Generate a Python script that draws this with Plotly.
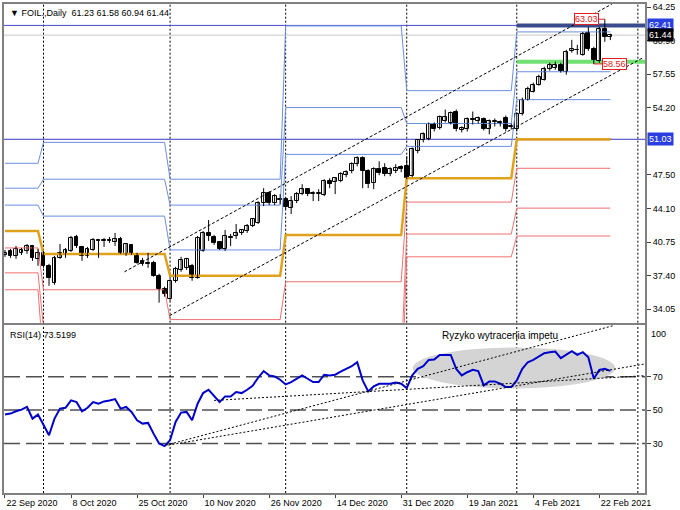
import plotly.graph_objects as go

# ---------------- data ----------------
opens = [39.48,39.87,39.38,39.68,39.87,40.37,39.08,39.68,38.38,36.69,
         39.18,39.58,39.87,41.27,40.27,39.38,39.97,40.97,40.87,40.97,
         40.77,41.07,39.58,40.47,39.58,38.88,38.58,38.68,37.39,36.09,
         35.10,36.89,37.98,38.18,38.38,37.19,39.87,41.67,41.27,40.77,
         40.07,41.27,41.37,41.67,41.86,42.36,42.66,44.65,45.65,44.65,
         45.05,45.05,44.15,44.85,45.55,46.04,45.55,45.60,45.45,46.84,
         46.74,46.84,47.44,47.83,48.53,49.13,47.83,46.64,48.03,48.13,
         47.54,47.83,48.23,48.33,47.34,49.82,50.92,51.02,52.51,52.11,
         52.81,52.61,53.80,51.91,52.01,53.01,52.81,53.01,52.01,52.75,
         52.71,53.11,52.25,52.01,53.51,55.00,55.79,56.49,56.99,58.08,
         58.18,58.48,57.78,59.87,59.93,59.48,61.66,60.07,58.88,62.06,
         61.23]
highs = [39.97,40.07,40.37,40.17,40.57,40.47,40.07,39.87,38.58,39.38,
         40.57,40.17,41.37,41.47,40.37,40.27,41.17,41.07,41.17,41.27,
         41.67,41.27,40.67,40.57,39.68,39.18,39.68,38.88,37.59,36.29,
         37.09,38.28,39.28,39.18,38.58,41.37,41.86,42.96,41.47,40.87,
         41.96,41.57,42.56,42.06,42.56,43.16,44.85,46.14,45.84,45.55,
         45.55,45.25,45.35,45.75,46.54,46.14,45.84,46.04,47.04,47.14,
         47.24,47.74,47.93,48.73,49.33,49.33,48.03,48.23,48.83,48.63,
         48.23,48.53,48.43,49.33,50.22,51.02,51.72,52.71,52.71,53.41,
         54.00,53.80,54.00,52.31,53.21,53.80,53.31,53.21,53.01,53.11,
         52.91,53.41,52.61,53.71,55.20,56.29,56.69,57.49,58.28,58.68,
         58.78,58.68,59.97,60.97,60.47,61.76,62.26,60.27,62.26,63.03,
         61.58]
lows = [39.28,39.18,39.08,39.48,39.58,38.88,38.38,38.18,36.39,36.49,
        39.08,39.18,39.78,40.17,38.88,39.18,39.87,39.18,40.27,40.67,
        40.37,39.58,39.38,39.48,38.58,38.38,38.18,37.29,34.70,35.30,
        34.90,36.69,37.79,37.98,36.89,37.09,39.78,40.87,40.47,39.97,
        39.87,40.37,41.07,41.47,41.67,42.26,42.56,44.35,44.45,44.45,
        44.55,44.05,43.56,44.65,45.45,45.35,44.85,44.85,45.35,46.14,
        45.55,46.74,47.24,47.64,48.33,46.14,46.14,46.04,47.44,47.34,
        47.34,47.64,47.74,47.04,47.24,49.63,50.72,50.92,51.81,52.01,
        52.71,52.51,51.81,51.72,51.81,52.51,52.61,51.91,51.52,52.31,
        52.31,51.81,52.01,51.81,53.41,54.90,55.70,56.39,56.89,57.88,
        57.98,57.69,57.49,59.68,59.48,59.38,59.87,58.56,58.68,60.77,
        60.94]
closes = [39.68,39.38,40.07,39.97,40.37,39.18,39.68,38.38,37.19,39.18,
          39.68,39.97,41.17,40.37,39.38,40.07,40.97,40.87,40.97,40.90,
          41.07,39.68,40.57,39.58,38.68,38.58,38.65,37.39,36.09,35.60,
          36.89,38.08,38.98,39.08,37.19,41.17,41.67,41.37,40.67,40.07,
          41.37,41.20,41.67,41.96,42.36,43.06,44.65,45.65,44.65,45.35,
          44.95,44.25,44.85,45.55,46.04,45.55,45.62,45.65,46.84,46.54,
          47.14,47.54,47.74,48.53,49.13,47.83,46.54,48.03,47.64,47.54,
          48.03,48.13,48.03,47.14,50.02,50.92,51.52,52.51,52.01,53.21,
          53.21,53.61,52.01,52.11,53.01,52.95,53.11,52.01,52.81,52.81,
          52.65,52.01,52.31,53.51,55.00,56.09,56.49,57.29,58.08,58.48,
          58.48,57.88,59.77,60.07,59.97,61.56,60.07,58.98,62.06,61.27,
          61.44]

rsi = [47.3,47.9,49.3,50.3,51.9,44.9,47.3,40.9,34.9,44.9,
       50.9,51.4,55.8,54.8,49.3,51.4,54.8,53.8,55.2,55.8,
       56.6,50.9,51.9,48.9,43.9,41.9,42.3,35.9,30.0,28.4,
       32.0,42.9,48.5,48.9,43.9,53.8,60.2,62.2,58.8,54.8,
       58.2,58.2,60.8,60.2,62.2,64.6,69.4,73.4,70.8,70.2,
       68.2,65.4,66.8,68.8,70.8,68.8,66.8,66.8,71.2,70.8,
       71.2,73.0,74.7,76.3,78.7,67.8,61.2,64.2,65.8,65.8,
       65.8,66.6,65.8,63.2,70.8,74.7,76.3,80.1,80.3,83.1,
       83.3,83.1,74.7,70.8,72.7,74.1,73.4,64.8,67.2,67.2,
       65.8,63.8,63.8,67.8,74.7,78.7,80.1,82.1,84.1,84.7,
       85.1,81.1,83.1,85.3,83.1,84.7,81.7,68.8,74.1,74.7,
       73.52]

# date labels every 12 bars
tick_bars = [0, 12, 24, 36, 48, 60, 72, 84, 96, 108]
tick_labels = ["22 Sep 2020", "8 Oct 2020", "25 Oct 2020", "10 Nov 2020", "26 Nov 2020",
               "14 Dec 2020", "31 Dec 2020", "19 Jan 2021", "4 Feb 2021", "22 Feb 2021"]

# monthly pivot levels (Sep .. Feb); first/last bar of each month
month_first = [0, 7, 30, 51, 73, 93]
month_last = [6, 29, 50, 72, 92, 110]
R3 = [48.63, 50.72, 47.04, 62.36, 55.89, 61.76]
R2 = [46.14, 47.04, 44.45, 54.20, 52.61, 57.78]
R1 = [44.45, 43.35, 39.97, 49.52, 50.32, 54.99]
PP = [41.86, 39.57, 37.38, 41.46, 47.14, 51.03]
S1 = [40.17, 35.99, 33.01, 36.79, 44.75, 48.13]
S2 = [37.68, 32.21, 30.42, 28.70, 41.56, 44.15]
S3 = [35.99, 28.63, 26.05, 24.06, 39.28, 41.36]

separator_bars = [7, 30, 51, 73, 93, 115]
price_ticks = [64.25, 60.90, 57.55, 54.20, 47.50, 44.10, 40.75, 37.40, 34.05]

level_hi = 62.41
level_pivot = 51.03
bid = 61.44
green_level = 58.78
high_mark = 63.03
low_mark = 58.56
high_bar = 109
low_bar = 107

# channel lines (bar, price)
chan_up = [(21.7, 37.78), (110.3, 64.55)]
chan_lo = [(29.9, 33.40), (115.9, 59.17)]
# RSI trend lines (bar, rsi)
rsi_lines = [[(29.3, 29.0), (110.5, 100.6)],
             [(29.7, 29.0), (116.7, 77.9)],
             [(38.0, 55.8), (116.7, 70.7)]]
ellipse = dict(x0=74.1, x1=110.9, y0=63.0, y1=87.5)

n = len(closes)
bars = list(range(n))

# ---------------- figure ----------------
fig = go.Figure()

def per_bar(levels):
    out = []
    for lv, a, b in zip(levels, month_first, month_last):
        out += [lv] * (b - a + 1)
    return out

blue_c = "#6b8ee0"
red_c = "#f07070"
for lv in (R3, R2, R1):
    fig.add_trace(go.Scatter(x=bars, y=per_bar(lv), mode="lines",
                             line=dict(color=blue_c, width=1), hoverinfo="skip", xaxis="x", yaxis="y"))
for lv in (S1, S2, S3):
    fig.add_trace(go.Scatter(x=bars, y=per_bar(lv), mode="lines",
                             line=dict(color=red_c, width=1), hoverinfo="skip", xaxis="x", yaxis="y"))
fig.add_trace(go.Scatter(x=bars, y=per_bar(PP), mode="lines",
                         line=dict(color="#e0a21c", width=2.5), hoverinfo="skip", xaxis="x", yaxis="y"))

# wicks
wx, wy = [], []
for i in bars:
    wx += [i, i, None]
    wy += [lows[i], highs[i], None]
fig.add_trace(go.Scatter(x=wx, y=wy, mode="lines", line=dict(color="black", width=1),
                         hoverinfo="skip", xaxis="x", yaxis="y"))
# bodies
for up in (True, False):
    idx = [i for i in bars if (closes[i] >= opens[i]) == up]
    fig.add_trace(go.Bar(
        x=idx,
        y=[max(abs(closes[i] - opens[i]), 0.04) for i in idx],
        base=[min(opens[i], closes[i]) for i in idx],
        width=0.7,
        marker=dict(color="white" if up else "black", line=dict(color="black", width=1)),
        hoverinfo="skip", xaxis="x", yaxis="y"))

# RSI
fig.add_trace(go.Scatter(x=bars, y=rsi, mode="lines", line=dict(color="#0000cc", width=2),
                         hoverinfo="skip", xaxis="x2", yaxis="y2"))

shapes = []
# ellipse
shapes.append(dict(type="circle", xref="x2", yref="y2", layer="below",
                   fillcolor="#d4d4d4", line=dict(width=0), **ellipse))
# rsi levels
for lv in (30, 50, 70):
    shapes.append(dict(type="line", xref="paper", yref="y2", x0=0, x1=1, y0=lv, y1=lv,
                       layer="below", line=dict(color="#505050", width=1.5, dash="16px,6px")))
# separators
for b in separator_bars:
    for yr in ("y", "y2"):
        shapes.append(dict(type="line", xref="x", yref=yr + " domain", x0=b, x1=b, y0=0, y1=1,
                           layer="below", line=dict(color="black", width=1, dash="2px,2px")))
# horizontal lines
shapes.append(dict(type="line", xref="paper", yref="y", x0=0, x1=1, y0=bid, y1=bid,
                   layer="below", line=dict(color="#c8c8c8", width=1)))
shapes.append(dict(type="line", xref="paper", yref="y", x0=0, x1=1, y0=level_hi, y1=level_hi,
                   layer="below", line=dict(color="#4a4ad0", width=1)))
shapes.append(dict(type="line", xref="paper", yref="y", x0=0, x1=1, y0=level_pivot, y1=level_pivot,
                   layer="below", line=dict(color="#3838c8", width=1)))
shapes.append(dict(type="line", xref="x", yref="y", x0=month_first[-1], x1=116.3, y0=level_hi, y1=level_hi,
                   layer="below", line=dict(color="#3b4c8e", width=4)))
shapes.append(dict(type="line", xref="x", yref="y", x0=month_first[-1], x1=116.3, y0=green_level, y1=green_level,
                   layer="below", line=dict(color="#70e070", width=4)))
shapes.append(dict(type="line", xref="x", yref="y", x0=month_first[-1], x1=month_last[-1], y0=level_pivot, y1=level_pivot,
                   layer="below", line=dict(color="#7a3a20", width=2)))
# channel
for (a, b) in (chan_up, chan_lo):
    shapes.append(dict(type="line", xref="x", yref="y", x0=a[0], y0=a[1], x1=b[0], y1=b[1],
                       line=dict(color="black", width=1, dash="3px,2px")))
for (a, b) in rsi_lines:
    shapes.append(dict(type="line", xref="x2", yref="y2", x0=a[0], y0=a[1], x1=b[0], y1=b[1],
                       line=dict(color="black", width=1, dash="2px,2px")))
# high / low marker connectors
shapes.append(dict(type="line", xref="x", yref="y", x0=107.4, x1=high_bar, y0=high_mark, y1=high_mark,
                   line=dict(color="#e02020", width=1)))
shapes.append(dict(type="line", xref="x", yref="y", x0=low_bar, x1=108.9, y0=low_mark, y1=low_mark,
                   line=dict(color="#e02020", width=1)))

font = "Liberation Sans, Arial, sans-serif"
ann = []
ann.append(dict(xref="paper", yref="paper", x=0, y=1, xanchor="left", yanchor="top", xshift=4, yshift=-2,
                text="▼ FOIL.,Daily  61.23 61.58 60.94 61.44", showarrow=False,
                font=dict(family=font, size=9, color="black")))
ann.append(dict(xref="paper", yref="y2 domain", x=0, y=1, xanchor="left", yanchor="top", xshift=4, yshift=-3,
                text="RSI(14) 73.5199", showarrow=False, font=dict(family=font, size=9, color="black")))
ann.append(dict(xref="x2", yref="y2", x=90.0, y=94.6, text="Ryzyko wytracenia impetu", showarrow=False,
                font=dict(family=font, size=10, color="black")))
for txt, v in (("100", 100), ("0", 0)):
    ann.append(dict(xref="paper", yref="y2", x=1, y=v, xanchor="left",
                    yanchor="top" if v == 100 else "bottom", xshift=4, text=txt, showarrow=False,
                    font=dict(family=font, size=9, color="black")))
for v, bg in ((level_hi, "#2a3fe0"), (bid, "black"), (level_pivot, "#2a3fe0")):
    ann.append(dict(xref="paper", yref="y", x=1, y=v, xanchor="left", yanchor="middle", xshift=2,
                    text="%.2f" % v, showarrow=False, bgcolor=bg, borderpad=1,
                    font=dict(family=font, size=9, color="white")))
ann.append(dict(xref="x", yref="y", x=105.6, y=high_mark, text="%.2f" % high_mark, showarrow=False,
                bgcolor="white", bordercolor="#e02020", borderwidth=1, borderpad=0,
                font=dict(family=font, size=9, color="#e02020")))
ann.append(dict(xref="x", yref="y", x=110.8, y=low_mark, text="%.2f" % low_mark, showarrow=False,
                bgcolor="white", bordercolor="#e02020", borderwidth=1, borderpad=0,
                font=dict(family=font, size=9, color="#e02020")))

axis_common = dict(showline=True, mirror=True, linecolor="#808080", linewidth=2,
                   showgrid=False, zeroline=False)
fig.update_layout(
    width=680, height=510,
    margin=dict(l=2, r=35, t=2, b=17),
    paper_bgcolor="white", plot_bgcolor="white",
    showlegend=False, barmode="overlay", bargap=0,
    shapes=shapes, annotations=ann,
    xaxis=dict(domain=[0, 1], range=[-0.18, 116.3], anchor="y", showticklabels=False, ticks="", **axis_common),
    xaxis2=dict(domain=[0, 1], range=[-0.18, 116.3], anchor="y2", matches="x",
                tickvals=tick_bars, ticktext=tick_labels, ticks="outside", ticklen=3, tickcolor="#404040",
                ticklabelposition="outside right",
                tickfont=dict(family=font, size=9, color="black"), **axis_common),
    yaxis=dict(domain=[0.3483, 1], range=[32.70, 64.55], anchor="x", side="right",
               tickvals=price_ticks, ticktext=["%.2f" % v for v in price_ticks],
               ticks="outside", ticklen=4, tickcolor="#404040",
               tickfont=dict(family=font, size=9, color="black"), **axis_common),
    yaxis2=dict(domain=[0, 0.3442], range=[0.3, 101.2], anchor="x2", side="right",
                tickvals=[30, 50, 70], ticktext=["30", "50", "70"], ticks="outside", ticklen=4,
                tickcolor="#404040", tickfont=dict(family=font, size=9, color="black"), **axis_common),
)

fig.write_html("out.html")
